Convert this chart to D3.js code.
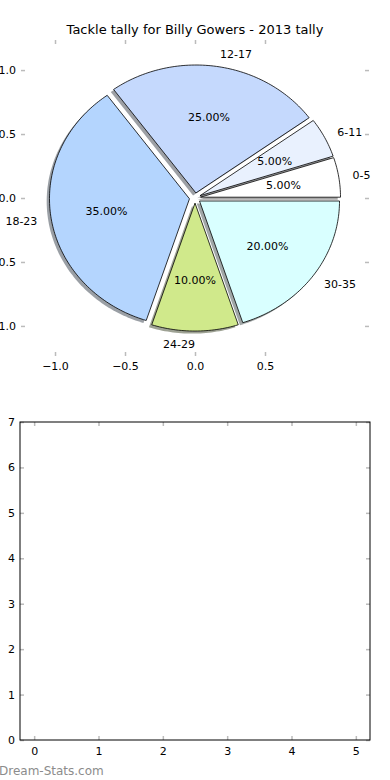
<!DOCTYPE html>
<html>
<head>
<meta charset="utf-8">
<script src="https://cdn.jsdelivr.net/npm/d3@7"></script>
<style>
  body { margin: 0; background: #fff; }
  text { font-family: "DejaVu Sans", sans-serif; }
</style>
</head>
<body>
<div id="chart"></div>
<script>
// chart data
const title = "Tackle tally for Billy Gowers - 2013 tally";
const ageGroups = ["0-5", "6-11", "12-17", "18-23", "24-29", "30-35"];
const tackleShare = [5, 5, 25, 35, 10, 20];
const sliceColors = ["#ffffff", "#e9f1fe", "#c5d9fd", "#b4d5fe", "#d0e98b", "#d9ffff"];
const pieXTicks = [-1.0, -0.5, 0.0, 0.5];
const pieYTicks = [-1.0, -0.5, 0.0, 0.5, 1.0];
const emptyXTicks = [0, 1, 2, 3, 4, 5];
const emptyYTicks = [0, 1, 2, 3, 4, 5, 6, 7];

var W = 390, H = 780;
var explode = 0.04, pctDist = 0.6, labelDist = 1.1;
var tickGrey = "#bbbbbb";

var svg = d3.select("#chart").append("svg")
    .attr("width", W)
    .attr("height", H);

svg.append("text")
    .attr("x", 195)
    .attr("y", 34)
    .attr("text-anchor", "middle")
    .style("font-size", "13px")
    .text(title);

// ---- top panel: pie ----
var x = d3.scaleLinear().domain([-1.243, 1.243]).range([21, 369]);
var y = d3.scaleLinear().domain([-1.235, 1.235]).range([356, 40]);

var total = d3.sum(tackleShare);
var slices = [];
var acc = 0;
tackleShare.forEach((v, i) => {
    var a0 = acc / total * 2 * Math.PI;
    acc += v;
    var a1 = acc / total * 2 * Math.PI;
    var am = (a0 + a1) / 2;
    slices.push({
        label: ageGroups[i], value: v, color: sliceColors[i],
        a0: a0, a1: a1, am: am,
        cx: explode * Math.cos(am), cy: explode * Math.sin(am)
    });
});

function wedgePoints(d, ox, oy) {
    var pts = [[d.cx + ox, d.cy + oy]];
    var n = Math.max(8, Math.ceil((d.a1 - d.a0) / 0.02));
    d3.range(n + 1).forEach(k => {
        var a = d.a0 + (d.a1 - d.a0) * k / n;
        pts.push([d.cx + ox + Math.cos(a), d.cy + oy + Math.sin(a)]);
    });
    return pts;
}

var line = d3.line().x(p => x(p[0])).y(p => y(p[1]));

var pie = svg.append("g");

// shadows first (below every wedge)
pie.selectAll("path.shadow")
    .data(slices)
    .enter()
    .append("path")
      .attr("class", "shadow")
      .attr("d", d => line(wedgePoints(d, -0.02, -0.02)) + "Z")
      .attr("fill", d => {
          var c = d3.rgb(d.color);
          return d3.rgb(c.r * 0.3, c.g * 0.3, c.b * 0.3).toString();
      })
      .attr("fill-opacity", 0.5);

pie.selectAll("path.wedge")
    .data(slices)
    .enter()
    .append("path")
      .attr("class", "wedge")
      .attr("d", d => line(wedgePoints(d, 0, 0)) + "Z")
      .attr("fill", d => d.color)
      .attr("stroke", "#000")
      .attr("stroke-width", 0.8)
      .attr("stroke-linejoin", "miter");

// outer labels
pie.selectAll("text.lbl")
    .data(slices)
    .enter()
    .append("text")
      .attr("x", d => x(d.cx + labelDist * Math.cos(d.am)))
      .attr("y", d => y(d.cy + labelDist * Math.sin(d.am)))
      .attr("text-anchor", d => (d.cx + labelDist * Math.cos(d.am)) > 1e-9 ? "start" : "end")
      .attr("dy", "0.35em")
      .style("font-size", "11px")
      .text(d => d.label);

// percent labels
pie.selectAll("text.pct")
    .data(slices)
    .enter()
    .append("text")
      .attr("x", d => x(d.cx + pctDist * Math.cos(d.am)))
      .attr("y", d => y(d.cy + pctDist * Math.sin(d.am)))
      .attr("text-anchor", "middle")
      .attr("dy", "0.35em")
      .style("font-size", "11px")
      .text(d => d3.format(".2f")(d.value / total * 100) + "%");

// axes with inward grey ticks, no spines
function styleAxis(g) {
    g.select(".domain").remove();
    g.selectAll(".tick line").attr("stroke", tickGrey).attr("stroke-width", 1.5);
    g.selectAll(".tick text").attr("fill", "#000").style("font-size", "11px")
        .style("font-family", "DejaVu Sans, sans-serif");
}
var fmt1 = d3.format(".1f");
svg.append("g").attr("transform", "translate(0,356)")
    .call(d3.axisBottom(x).tickValues(pieXTicks).tickFormat(fmt1).tickSize(-4).tickPadding(6))
    .call(styleAxis);
svg.append("g").attr("transform", "translate(0,40)")
    .call(d3.axisTop(x).tickValues(pieXTicks).tickFormat("").tickSize(-4))
    .call(styleAxis);
svg.append("g").attr("transform", "translate(21,0)")
    .call(d3.axisLeft(y).tickValues(pieYTicks).tickFormat(fmt1).tickSize(-4).tickPadding(5))
    .call(styleAxis);
svg.append("g").attr("transform", "translate(369,0)")
    .call(d3.axisRight(y).tickValues(pieYTicks).tickFormat("").tickSize(-4))
    .call(styleAxis);

// ---- bottom panel: empty axes ----
var x2 = d3.scaleLinear().domain([-0.22, 5.22]).range([20, 370]);
var y2 = d3.scaleLinear().domain([0, 7]).range([740, 422]);

svg.append("g").attr("transform", "translate(0,740)")
    .call(d3.axisBottom(x2).tickValues(emptyXTicks).tickFormat(d3.format("d")).tickSize(-4).tickPadding(7))
    .call(styleAxis);
svg.append("g").attr("transform", "translate(0,422)")
    .call(d3.axisTop(x2).tickValues(emptyXTicks).tickFormat("").tickSize(-4))
    .call(styleAxis);
svg.append("g").attr("transform", "translate(20,0)")
    .call(d3.axisLeft(y2).tickValues(emptyYTicks).tickFormat(d3.format("d")).tickSize(-4).tickPadding(5))
    .call(styleAxis);
svg.append("g").attr("transform", "translate(370,0)")
    .call(d3.axisRight(y2).tickValues(emptyYTicks).tickFormat("").tickSize(-4))
    .call(styleAxis);

svg.append("rect")
    .attr("x", x2.range()[0])
    .attr("y", y2.range()[1])
    .attr("width", x2.range()[1] - x2.range()[0])
    .attr("height", y2.range()[0] - y2.range()[1])
    .attr("fill", "none")
    .attr("stroke", "#000")
    .attr("stroke-width", 1);

// watermark
svg.append("text")
    .attr("x", -1)
    .attr("y", 775)
    .attr("fill", "#8c8c8c")
    .style("font-size", "12px")
    .text("Dream-Stats.com");
</script>
</body>
</html>
